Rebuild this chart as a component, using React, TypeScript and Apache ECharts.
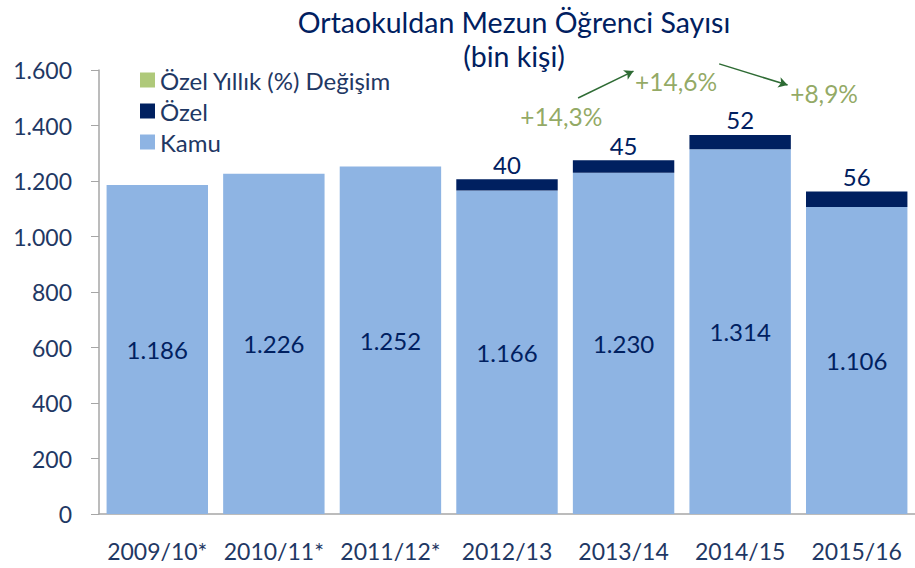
import React, { useEffect, useRef } from 'react';
import * as echarts from 'echarts';

const categories = ['2009/10*', '2010/11*', '2011/12*', '2012/13', '2013/14', '2014/15', '2015/16'];
const kamu = [1186, 1226, 1252, 1166, 1230, 1314, 1106];
const ozel: (number | null)[] = [null, null, null, 40, 45, 52, 56];
const ozelDegisim = [14.3, 14.6, 8.9];
const yMin = 0;
const yMax = 1600;
const yInterval = 200;

const FONT = 'Lato, "Open Sans", sans-serif';
const NAVY = '#002060';
const AXIS_TEXT = '#1F3864';

const fmtThousands = (v: number) => String(v).replace(/\B(?=(\d{3})+(?!\d))/g, '.');
const fmtPct = (v: number) => '+' + v.toFixed(1).replace('.', ',') + '%';

export default function App() {
  const ref = useRef<HTMLDivElement>(null);
  useEffect(() => {
    if (!ref.current) return;
    const chart = echarts.init(ref.current, null, { renderer: 'svg' });
    const plotTop = 70;
    const plotH = 444;
    const plotBottomPx = plotTop + plotH;
    // annotation layer: same value units as the main axis, extended up to the top of the canvas
    const annotYMax = (yMax * plotBottomPx) / plotH;
    // placement of percentage annotations in (category-units, value) space
    const annotPos = [
      [3.966, 1431],
      [4.95, 1557],
      [6.22, 1517],
    ];
    const arrows = [
      [[4.11, 1499], [4.585, 1596]],
      [[5.32, 1622], [5.907, 1546]],
    ];
    chart.setOption({
      animation: false,
      textStyle: { fontFamily: FONT },
      title: {
        text: 'Ortaokuldan Mezun Öğrenci Sayısı\n(bin kişi)',
        left: 509,
        textAlign: 'center',
        top: 0,
        textStyle: { fontSize: 28.5, fontWeight: 'normal', color: NAVY, lineHeight: 34, fontFamily: FONT },
      },
      legend: {
        orient: 'vertical',
        left: 135,
        top: 63,
        icon: 'rect',
        itemWidth: 15,
        itemHeight: 15,
        itemGap: 7,
        textStyle: { fontSize: 24, color: AXIS_TEXT, lineHeight: 24, fontFamily: FONT },
        data: [
          { name: 'Özel Yıllık (%) Değişim', itemStyle: { color: '#9BBB59' } },
          { name: 'Özel' },
          { name: 'Kamu' },
        ],
      },
      grid: [
        { left: 99, top: plotTop, width: 826, height: plotH },
        { left: 99, top: 0, width: 826, height: plotBottomPx },
      ],
      xAxis: [
        {
          type: 'category',
          gridIndex: 0,
          data: categories,
          axisLine: { lineStyle: { color: '#A6A6A6', width: 1.5 } },
          axisTick: { show: false },
          axisLabel: { interval: 0, fontSize: 23, color: AXIS_TEXT, margin: 25, fontFamily: FONT },
        },
        { type: 'value', gridIndex: 1, min: 0, max: 7, show: false },
      ],
      yAxis: [
        {
          type: 'value',
          gridIndex: 0,
          min: yMin,
          max: yMax,
          interval: yInterval,
          axisLine: { show: true, lineStyle: { color: '#A6A6A6', width: 1.5 } },
          axisTick: { show: true, length: 8, lineStyle: { color: '#A6A6A6' } },
          splitLine: { show: false },
          axisLabel: {
            fontSize: 23,
            color: AXIS_TEXT,
            margin: 27,
            formatter: (v: number) => fmtThousands(v),
            fontFamily: FONT,
          },
        },
        { type: 'value', gridIndex: 1, min: 0, max: annotYMax, show: false },
      ],
      series: [
        {
          name: 'Kamu',
          type: 'bar',
          stack: 'total',
          data: kamu,
          barCategoryGap: '13%',
          itemStyle: { color: '#8EB4E3' },
          label: {
            show: true,
            position: 'inside',
            fontSize: 24,
            color: NAVY,
            fontFamily: FONT,
            formatter: (p: any) => fmtThousands(p.value),
          },
        },
        {
          name: 'Özel',
          type: 'bar',
          stack: 'total',
          data: ozel,
          itemStyle: { color: NAVY },
          label: { show: true, position: 'top', distance: 3, fontSize: 24, color: NAVY, fontFamily: FONT },
        },
        {
          name: 'Özel Yıllık (%) Değişim',
          type: 'scatter',
          xAxisIndex: 1,
          yAxisIndex: 1,
          symbolSize: 0,
          clip: false,
          itemStyle: { color: '#9BBB59' },
          data: annotPos.map((p) => [p[0], p[1]]),
          label: {
            show: true,
            position: 'inside',
            fontSize: 24.5,
            color: '#77933C',
            fontFamily: FONT,
            formatter: (p: any) => fmtPct(ozelDegisim[p.dataIndex]),
          },
          markLine: {
            silent: true,
            symbol: ['none', 'arrow'],
            symbolSize: [8, 9],
            label: { show: false },
            lineStyle: { color: '#2E6B34', width: 1.5, type: 'solid' },
            data: arrows.map((a) => [{ coord: a[0] }, { coord: a[1] }]),
          },
        },
      ],
    });
    return () => chart.dispose();
  }, []);
  return <div ref={ref} style={{ position: 'absolute', left: 0, top: 0, width: 915, height: 568 }} />;
}
